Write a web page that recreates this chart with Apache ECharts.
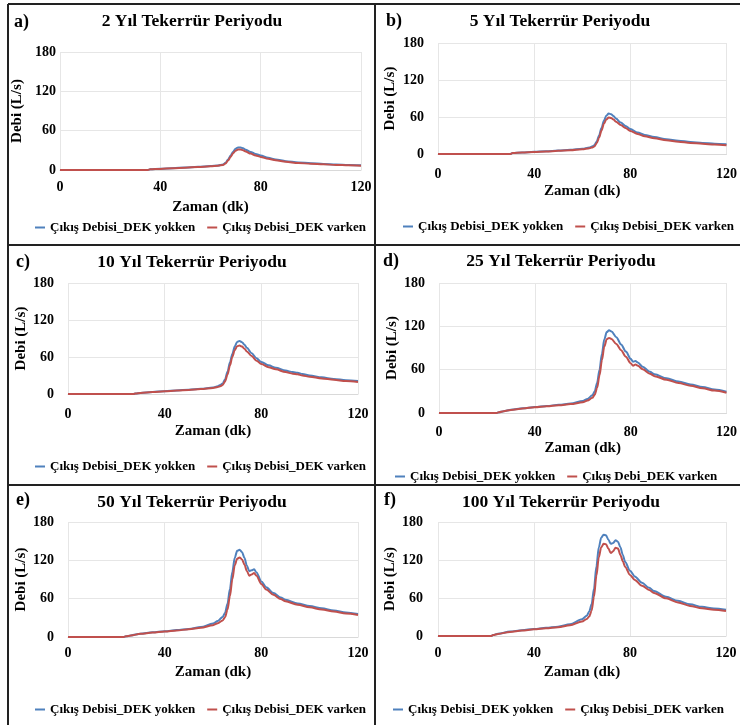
<!DOCTYPE html>
<html>
<head>
<meta charset="utf-8">
<title>Tekerrür Periyodu</title>
<script src="https://cdn.jsdelivr.net/npm/echarts@6/dist/echarts.min.js"></script>
<style>
html,body{margin:0;padding:0;background:#fff}
#main{width:740px;height:725px}
</style>
</head>
<body>
<div id="main"></div>
<script>
// eksen etiketleri
var xTicks = [0, 40, 80, 120];
var yTicks = [0, 60, 120, 180];
var seriesNames = ['Çıkış Debisi_DEK yokken', 'Çıkış Debisi_DEK varken'];
var seriesNamesD = ['Çıkış Debisi_DEK yokken', 'Çıkış Debi_DEK varken'];
var titles = ['2 Yıl Tekerrür Periyodu', '5 Yıl Tekerrür Periyodu', '10 Yıl Tekerrür Periyodu',
              '25 Yıl Tekerrür Periyodu', '50 Yıl Tekerrür Periyodu', '100 Yıl Tekerrür Periyodu'];
var letters = ['a)', 'b)', 'c)', 'd)', 'e)', 'f)'];

// 2 yil
var t2 = [0, 35, 36, 40, 45, 50, 55, 60, 63, 65, 66, 67, 68, 69, 70, 71, 72, 73, 74, 76, 78, 80, 83, 86, 90, 95, 100, 105, 110, 115, 120];
var yokken2 = [0, 0, 1, 1.8, 2.8, 3.8, 4.8, 6, 7, 8.5, 11, 16, 22, 28, 32.5, 34.5, 34.5, 33, 31, 27.5, 24.5, 22, 18.5, 16, 13.5, 11.5, 10.3, 9.3, 8.5, 7.8, 7.2];
var varken2 = [0, 0, 1, 1.7, 2.7, 3.6, 4.5, 5.6, 6.5, 7.8, 10, 14.5, 20, 25.5, 29.5, 31.2, 31.2, 30, 28.2, 25, 22.2, 20, 17, 14.8, 12.5, 10.7, 9.5, 8.6, 7.8, 7.1, 6.5];

// 5 yil
var t5 = [0, 30, 31, 35, 40, 45, 50, 55, 60, 63, 64, 65, 66, 67, 68, 69, 70, 71, 72, 73, 74, 76, 78, 80, 83, 86, 90, 95, 100, 105, 110, 115, 120];
var yokken5 = [0, 0, 1.5, 2.5, 3.5, 4.5, 5.5, 6.8, 8.5, 10.5, 12, 14, 20, 30, 42, 54, 62, 65.5, 64.5, 61.5, 57.5, 51, 45.5, 40.5, 35, 31, 27.5, 24, 21.5, 19.5, 18, 16.8, 15.8];
var varken5 = [0, 0, 1.5, 2.4, 3.3, 4.2, 5.1, 6.2, 7.8, 9.5, 10.5, 12, 17.5, 26.5, 38, 49, 56, 59, 58.5, 56, 52.5, 47, 42, 37.5, 32.5, 28.8, 25.5, 22.3, 20, 18, 16.5, 15.3, 14.3];

// 10 yil
var t10 = [0, 27, 28, 30, 35, 40, 45, 50, 55, 60, 62, 63, 64, 65, 66, 67, 68, 69, 70, 71, 72, 73, 74, 76, 78, 80, 83, 86, 90, 93, 95, 97, 100, 105, 110, 115, 120];
var yokken10 = [0, 0, 1, 1.8, 3.3, 4.6, 5.8, 7, 8.5, 10.5, 12.5, 14.5, 17, 24, 36, 51, 65, 77, 84.5, 86, 84, 80, 75, 66, 58, 52, 46.5, 42.5, 38, 35.5, 34.5, 32.5, 30, 27, 24.5, 22.5, 21];
var varken10 = [0, 0, 1, 1.7, 3.2, 4.4, 5.5, 6.6, 8, 9.8, 11.3, 12.5, 14.5, 20.5, 31.5, 46, 60, 71, 77.5, 78.5, 77, 73.5, 69, 61.5, 54, 48.5, 43.5, 40, 35.5, 33, 32, 30, 28, 25.3, 23, 21, 19.5];

// 25 yil
var t25 = [0, 24, 25, 27, 30, 35, 40, 45, 50, 55, 60, 62, 64, 65, 66, 67, 68, 69, 70, 71, 72, 74, 76, 78, 80, 81, 82, 83, 85, 88, 90, 95, 100, 105, 110, 115, 120];
var yokken25 = [0, 0, 1, 2.5, 4.5, 6.5, 8.3, 9.8, 11.3, 13, 16.6, 19.5, 24.5, 30, 42, 60, 82, 102, 112, 114.5, 113, 105, 95, 85, 75, 71, 72, 70, 64, 57, 53.5, 48, 43.5, 39.5, 36, 32.5, 29.5];
var varken25 = [0, 0, 1, 2.4, 4.3, 6.3, 8, 9.4, 10.8, 12.3, 14.8, 17.3, 21, 25.5, 35, 52, 73, 92, 102, 104, 102.5, 95.5, 87, 78, 69, 65.5, 67, 65.5, 60.5, 54.5, 51, 46, 41.5, 37.8, 34.3, 31, 28];

// 50 yil
var t50 = [0, 23, 24, 26, 30, 35, 40, 45, 50, 55, 60, 62, 64, 65, 66, 67, 68, 69, 70, 71, 72, 73, 74, 75, 76, 77, 78, 80, 82, 85, 88, 90, 95, 100, 105, 110, 115, 120];
var yokken50 = [0, 0, 1, 2.5, 5.2, 7.3, 9, 10.8, 12.6, 15.5, 21, 25, 31.5, 38, 52, 75, 102, 124, 135, 136.5, 133, 124, 112, 103, 104.5, 106, 101, 87, 78, 69, 62, 58.5, 52.5, 48.5, 45, 41.5, 38.5, 36];
var varken50 = [0, 0, 1, 2.4, 5, 7, 8.7, 10.3, 12, 14.5, 18.5, 21.5, 26, 31, 43, 64, 90, 112, 122.5, 124.5, 121.5, 113.5, 103.5, 96, 98, 100, 96, 83, 74.5, 66, 59.5, 56, 50.5, 46.5, 43, 39.8, 36.8, 34.5];

// 100 yil
var t100 = [0, 22, 23, 25, 30, 35, 40, 45, 50, 55, 60, 62, 63, 64, 65, 66, 67, 68, 69, 70, 71, 72, 73, 74, 75, 76, 77, 78, 80, 82, 85, 88, 90, 95, 100, 105, 110, 115, 120];
var yokken100 = [0, 0, 1.5, 3.5, 7, 9.2, 11, 13, 14.8, 18.5, 26.5, 32, 38.7, 50, 75, 110, 140, 155, 160, 159, 152, 145.5, 147, 151, 149, 140, 128, 117, 103, 94, 84, 76, 71, 62, 55.5, 50, 46, 43.5, 41.5];
var varken100 = [0, 0, 1.5, 3.3, 6.5, 8.7, 10.5, 12.3, 14, 17, 22.8, 27, 30.7, 40, 62, 95, 124, 140, 145.5, 145, 138, 131, 134, 139.5, 138, 128, 118, 109, 96.5, 88.5, 79.5, 72.5, 68, 59.5, 53, 47.5, 43.7, 41.3, 39.5];

var times = [t2, t5, t10, t25, t50, t100];
var blues = [yokken2, yokken5, yokken10, yokken25, yokken50, yokken100];
var reds = [varken2, varken5, varken10, varken25, varken50, varken100];

// yerlesim (px)
var layout = [
    {grid: {left: 60, top: 52, width: 301, height: 118}, yMargin: 4, xMargin: 10, xGap: 30, yGap: 35, title: [192, 21], letter: [14, 22], legend: [30, 216]},
    {grid: {left: 438, top: 43, width: 289, height: 111}, yMargin: 14, xMargin: 13, xGap: 30, yGap: 40, title: [560, 21], letter: [386, 21], legend: [398, 215]},
    {grid: {left: 68, top: 283, width: 290, height: 111}, yMargin: 14, xMargin: 13, xGap: 30, yGap: 36, title: [192, 262], letter: [16, 262], legend: [30, 455]},
    {grid: {left: 439, top: 283, width: 288, height: 130}, yMargin: 14, xMargin: 12, xGap: 28, yGap: 38, title: [561, 261], letter: [383, 261], legend: [390, 465]},
    {grid: {left: 68, top: 522, width: 290, height: 115}, yMargin: 14, xMargin: 9, xGap: 28, yGap: 36, title: [192, 502], letter: [16, 500], legend: [30, 698]},
    {grid: {left: 438, top: 522, width: 288, height: 114}, yMargin: 15, xMargin: 10, xGap: 29, yGap: 37, title: [561, 502], letter: [384, 500], legend: [388, 698]}
];

var FONT = "'Liberation Serif', 'Times New Roman', serif";
var BLUE = '#4F81BD';
var RED = '#C0504D';

var grids = [], xAxes = [], yAxes = [], series = [], legends = [], graphics = [];

for (var i = 0; i < 6; i++) {
    var L = layout[i];
    var names = i === 3 ? seriesNamesD : seriesNames;
    grids.push(L.grid);
    xAxes.push({
        type: 'value', gridIndex: i, min: xTicks[0], max: xTicks[xTicks.length - 1], interval: 40,
        name: 'Zaman (dk)', nameLocation: 'middle', nameGap: L.xGap,
        nameTextStyle: {fontFamily: FONT, fontWeight: 'bold', fontSize: 15, color: '#000'},
        axisLine: {show: true, lineStyle: {color: '#d9d9d9', width: 1}},
        axisTick: {show: false},
        axisLabel: {margin: L.xMargin, fontFamily: FONT, fontWeight: 'bold', fontSize: 14, color: '#000'},
        splitLine: {show: true, lineStyle: {color: '#e6e6e6', width: 1}}
    });
    yAxes.push({
        type: 'value', gridIndex: i, min: yTicks[0], max: yTicks[yTicks.length - 1], interval: 60,
        name: 'Debi (L/s)', nameLocation: 'middle', nameGap: L.yGap,
        nameTextStyle: {fontFamily: FONT, fontWeight: 'bold', fontSize: 15, color: '#000'},
        axisLine: {show: false},
        axisTick: {show: false},
        axisLabel: {margin: L.yMargin, fontFamily: FONT, fontWeight: 'bold', fontSize: 14, color: '#000'},
        splitLine: {show: true, lineStyle: {color: '#e6e6e6', width: 1}}
    });
    var pb = [], pr = [];
    for (var k = 0; k < times[i].length; k++) {
        pb.push([times[i][k], blues[i][k]]);
        pr.push([times[i][k], reds[i][k]]);
    }
    series.push({
        name: names[0], type: 'line', xAxisIndex: i, yAxisIndex: i, data: pb,
        symbol: 'none', smooth: 0.3, smoothMonotone: 'x',
        lineStyle: {color: BLUE, width: 2}, itemStyle: {color: BLUE}
    });
    series.push({
        name: names[1], type: 'line', xAxisIndex: i, yAxisIndex: i, data: pr,
        symbol: 'none', smooth: 0.3, smoothMonotone: 'x',
        lineStyle: {color: RED, width: 2}, itemStyle: {color: RED}
    });
    legends.push({
        data: names, left: L.legend[0], top: L.legend[1], orient: 'horizontal',
        icon: 'rect', itemWidth: 10, itemHeight: 2, itemGap: 12,
        textStyle: {fontFamily: FONT, fontWeight: 'bold', fontSize: 13, color: '#000'}
    });
    graphics.push({
        type: 'text', x: L.title[0], y: L.title[1],
        style: {text: titles[i], fill: '#000', font: 'bold 17.5px ' + FONT, align: 'center', verticalAlign: 'middle'}
    });
    graphics.push({
        type: 'text', x: L.letter[0], y: L.letter[1],
        style: {text: letters[i], fill: '#000', font: 'bold 18px ' + FONT, align: 'left', verticalAlign: 'middle'}
    });
}

// cerceve
var frame = [[8, 4, 740, 4], [8, 4, 8, 725], [375, 4, 375, 725], [8, 245, 740, 245], [8, 485, 740, 485]];
for (var j = 0; j < frame.length; j++) {
    graphics.push({
        type: 'line', z: 100,
        shape: {x1: frame[j][0], y1: frame[j][1], x2: frame[j][2], y2: frame[j][3]},
        style: {stroke: '#222', lineWidth: 2}
    });
}

var chart = echarts.init(document.getElementById('main'));
chart.setOption({
    backgroundColor: '#fff',
    animation: false,
    grid: grids,
    xAxis: xAxes,
    yAxis: yAxes,
    legend: legends,
    series: series,
    graphic: graphics
});
</script>
</body>
</html>
